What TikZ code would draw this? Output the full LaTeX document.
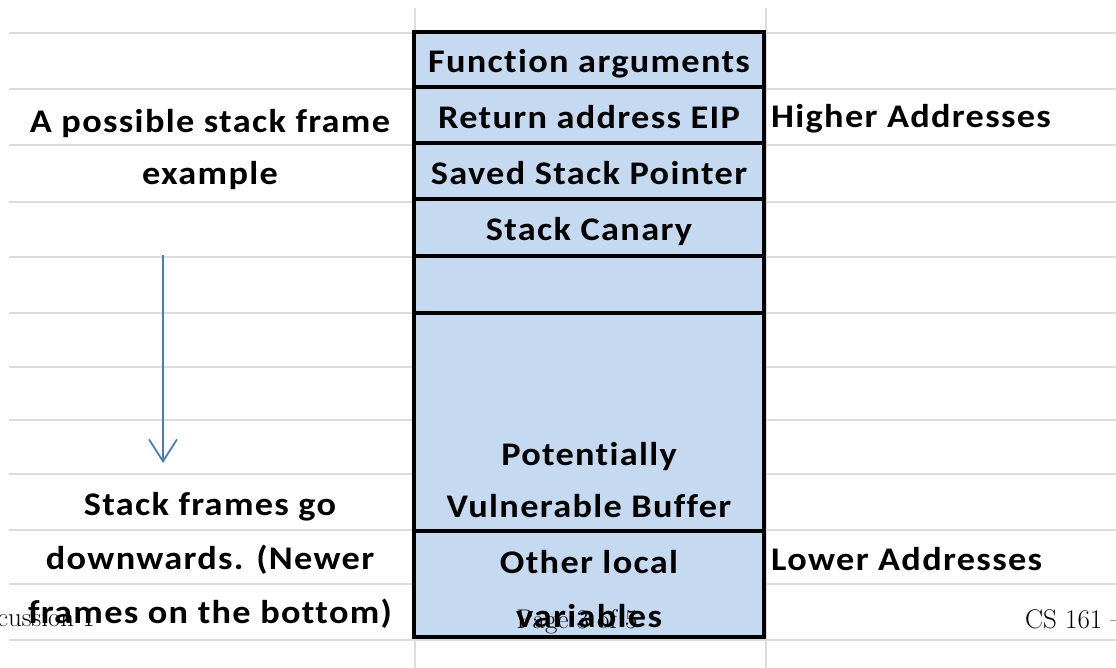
\documentclass[tikz,border=0pt]{standalone}
\usepackage{fontspec}
\usepackage{tikz}
\usetikzlibrary{arrows.meta}
\usetikzlibrary{positioning}
\newfontfamily\xlfont{Carlito}[FakeStretch=1.1,LetterSpace=4,Ligatures=NoCommon]
\definecolor{cellblue}{RGB}{197,217,241}
\definecolor{gridgray}{RGB}{220,220,220}
\definecolor{arrowblue}{RGB}{74,126,187}

\begin{document}
\begin{tikzpicture}[x=1pt,y=-1pt,
    cell/.style={draw=black,line width=4pt,fill=cellblue,minimum width=350pt,inner sep=0pt,outer sep=0pt},
    celltext/.style={font=\xlfont\bfseries\fontsize{33}{40}\selectfont,anchor=base,inner sep=0pt},
    foottext/.style={font=\fontsize{27}{32}\selectfont,anchor=base,inner sep=0pt}]
        \newcommand{\stackleft}{414}
        \newcommand{\stacktop}{32}
        \newcommand{\leftmid}{210}
        \newcommand{\gridright}{1116}
        \useasboundingbox (0,0) rectangle (1116,668);
        \clip (0,0) rectangle (1116,668);
        % spreadsheet grid
        \foreach \gy in {33,89,145,202,257,313,367,420,474,530,584,640}
            \draw[gridgray,line width=1.5pt] (9,\gy) -- (\gridright,\gy);
        \foreach \gx in {415,766}
            \draw[gridgray,line width=1.5pt] (\gx,8) -- (\gx,668);
        % the stack frame
        \node[cell,minimum height=55pt,anchor=north west] (funcargs) at (\stackleft,\stacktop) {};
        \node[cell,minimum height=56pt,below=0pt of funcargs] (retaddr) {};
        \node[cell,minimum height=56pt,below=0pt of retaddr] (savedsp) {};
        \node[cell,minimum height=57pt,below=0pt of savedsp] (canary) {};
        \node[cell,minimum height=57pt,below=0pt of canary] (padding) {};
        \node[cell,minimum height=218pt,below=0pt of padding] (buffer) {};
        \node[cell,minimum height=106pt,below=0pt of buffer] (locals) {};
        \node[celltext] (tfuncargs) at ([yshift=14pt]funcargs.south) {Function arguments};
        \node[celltext] (tretaddr) at ([yshift=14pt]retaddr.south) {Return address EIP};
        \node[celltext] (tsavedsp) at ([yshift=14pt]savedsp.south) {Saved Stack Pointer};
        \node[celltext] (tcanary) at ([yshift=15pt]canary.south) {Stack Canary};
        \node[celltext] (tbufferb) at ([yshift=14pt]buffer.south) {Vulnerable Buffer};
        \node[celltext] (tbuffera) at ([yshift=66pt]buffer.south) {Potentially};
        \node[celltext] (tlocalsb) at ([yshift=10pt]locals.south) {variables};
        \node[celltext] (tlocalsa) at ([yshift=64pt]locals.south) {Other local};
        % address labels
        \node[celltext,anchor=base west] (higher) at ([xshift=7pt,yshift=15pt]retaddr.south east) {Higher Addresses};
        \node[celltext,anchor=base west] (lower) at ([xshift=7pt,yshift=67pt]locals.south east) {Lower Addresses};
        % left column
        \node[celltext] (titlea) at (\leftmid,133) {A possible stack frame};
        \node[celltext] (titleb) at (\leftmid,185) {example};
        \coordinate (arrtop) at (163,255);
        \coordinate (arrbot) at (163,463);
        \draw[arrowblue,line width=1.8pt,-{Straight Barb[length=22pt,width=28pt]}] (arrtop) -- (arrbot);
        \node[celltext] (notea) at (\leftmid,515) {Stack frames go};
        \node[celltext] (noteb) at (\leftmid,569) {downwards. (Newer};
        \node[celltext] (notec) at (\leftmid,623) {frames on the bottom)};
        % page footer
        \node[foottext,anchor=base east] (footleft) at (95,626) {Discussion 1};
        \node[foottext] (footmid) at (577,628) {Page 3 of 5};
        \node[foottext,anchor=base west] (footright) at (1025,628) {CS 161 -- };
\end{tikzpicture}
\end{document}
